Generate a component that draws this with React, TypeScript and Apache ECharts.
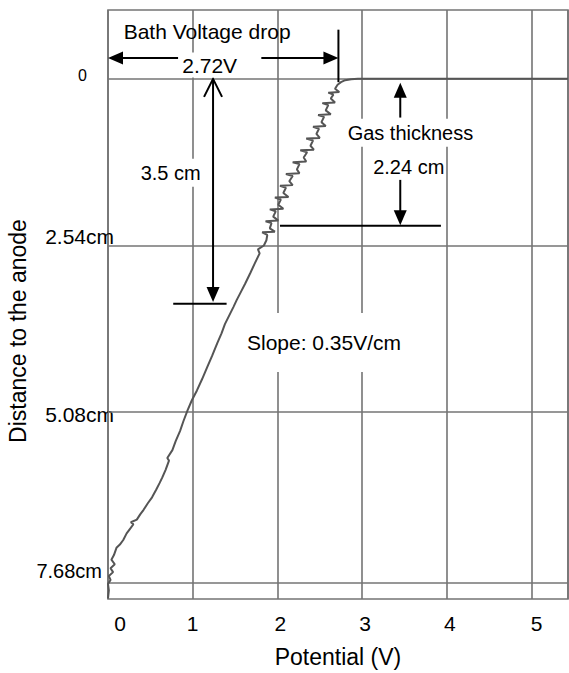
import React, { useEffect, useRef } from "react";
import * as echarts from "echarts";

// Potential profile (V) versus distance to the anode (cm)
const potentialV = [
  0.0, 0.01, 0.0, 0.03, 0.01, 0.06, 0.03, 0.08, 0.04, 0.07, 0.1, 0.14, 0.18, 0.22, 0.26, 0.3, 0.27, 0.34,
  0.38, 0.42, 0.47, 0.52, 0.57, 0.61, 0.64, 0.68, 0.72, 0.7, 0.76, 0.8, 0.85, 0.89, 0.94, 0.99, 1.05, 1.11,
  1.17, 1.23, 1.29, 1.34, 1.38, 1.43, 1.48, 1.52, 1.56, 1.62, 1.68, 1.73, 1.79, 1.77, 1.84, 1.87,
  1.88, 1.82, 1.97, 1.91, 1.93, 1.86, 2.01, 1.95, 1.98, 1.91, 2.07, 2.01, 2.04, 1.97, 2.13, 2.07,
  2.1, 2.03, 2.18, 2.14, 2.18, 2.1, 2.26, 2.23, 2.26, 2.18, 2.34, 2.31, 2.35, 2.27, 2.43, 2.39,
  2.42, 2.34, 2.5, 2.46, 2.49, 2.42, 2.57, 2.52, 2.55, 2.48, 2.63, 2.57, 2.6, 2.53, 2.68, 2.63,
  2.66, 2.6, 2.73, 2.68, 2.71, 2.75, 2.8, 2.87, 2.95, 5.43,
];
const distanceCm = [
  7.92, 7.8, 7.7, 7.64, 7.58, 7.52, 7.46, 7.4, 7.33, 7.26, 7.15, 7.1, 7.03, 6.93, 6.86, 6.79, 6.76, 6.72,
  6.64, 6.57, 6.47, 6.38, 6.26, 6.16, 6.08, 5.96, 5.82, 5.78, 5.66, 5.52, 5.37, 5.22, 5.05, 4.9, 4.75, 4.58,
  4.4, 4.22, 4.03, 3.88, 3.74, 3.61, 3.48, 3.37, 3.27, 3.12, 2.96, 2.82, 2.66, 2.6, 2.54, 2.46,
  2.38, 2.34, 2.33, 2.28, 2.2, 2.17, 2.16, 2.1, 2.02, 1.99, 1.98, 1.92, 1.84, 1.81, 1.8, 1.74,
  1.66, 1.63, 1.62, 1.56, 1.48, 1.45, 1.44, 1.38, 1.3, 1.27, 1.26, 1.2, 1.12, 1.09, 1.08, 1.02,
  0.94, 0.91, 0.9, 0.84, 0.76, 0.73, 0.72, 0.66, 0.58, 0.55, 0.54, 0.48, 0.4, 0.37, 0.36, 0.3,
  0.24, 0.21, 0.2, 0.15, 0.09, 0.05, 0.02, 0.005, 0, 0,
];

const xTickValues = [0, 1, 2, 3, 4, 5];
const yTickValues = [0, 2.54, 5.08, 7.68];
const yTickLabels = ["0", "2.54cm", "5.08cm", "7.68cm"];
const xAxisTitle = "Potential (V)";
const yAxisTitle = "Distance to the anode";

const bathDropLabel = "Bath Voltage drop";
const bathDropValue = "2.72V";
const bathDropV = 2.72;
const depthLabel = "3.5 cm";
const gasLabel = "Gas thickness";
const gasValueLabel = "2.24 cm";
const gasThicknessCm = 2.24;
const slopeLabel = "Slope: 0.35V/cm";

const FONT = "'Liberation Sans', Arial, Helvetica, sans-serif";
const GRID_COLOR = "#747474";

export default function App() {
  const ref = useRef<HTMLDivElement>(null);

  useEffect(() => {
    document.body.style.margin = "0";
    if (!ref.current) return;
    const chart = echarts.init(ref.current, undefined, { renderer: "svg" });

    const data = potentialV.map((v, i) => [v, distanceCm[i]]);

    const xPad: Record<number, number[]> = {
      0: [0, 0, 0, 24],
      1: [0, 0, 0, 0],
      2: [0, 0, 0, 6],
      3: [0, 0, 0, 6],
      4: [0, 0, 0, 6],
      5: [0, 0, 0, 10],
    };
    const xRich: Record<string, any> = {};
    xTickValues.forEach((v) => {
      xRich["x" + v] = { fontSize: 21, fontFamily: FONT, color: "#000", padding: xPad[v] };
    });

    const yRich: Record<string, any> = {
      t0: { fontSize: 16, fontFamily: FONT, color: "#000", padding: [0, 27, 6, 0] },
      t1: { fontSize: 21, fontFamily: FONT, color: "#000", padding: [0, 0, 17, 0] },
      t2: { fontSize: 21, fontFamily: FONT, color: "#000", padding: [4, 0, 0, 0] },
      t3: { fontSize: 20, fontFamily: FONT, color: "#000", padding: [0, 12, 24, 0] },
    };

    chart.setOption({
      animation: false,
      backgroundColor: "#fff",
      grid: {
        left: 108,
        right: 1,
        top: 10,
        bottom: 74,
        show: true,
        borderColor: GRID_COLOR,
        borderWidth: 1.6,
        backgroundColor: "transparent",
      },
      xAxis: {
        type: "value",
        min: 0,
        max: 5.43,
        interval: 1,
        name: xAxisTitle,
        nameLocation: "middle",
        nameGap: 46,
        nameTextStyle: { fontSize: 23, fontFamily: FONT, color: "#000" },
        axisLine: { show: false },
        axisTick: { show: false },
        splitLine: { show: true, lineStyle: { color: GRID_COLOR, width: 1.6 } },
        axisLabel: {
          margin: 14,
          fontSize: 21,
          showMaxLabel: false,
          formatter: (v: number) => {
            const k = Math.round(v);
            return xTickValues.includes(k) && Math.abs(v - k) < 1e-6 ? `{x${k}|${k}}` : "";
          },
          rich: xRich,
        },
      },
      yAxis: {
        type: "value",
        inverse: true,
        min: -1.05,
        max: 7.93,
        axisLine: { show: false },
        axisTick: { show: false },
        splitLine: { show: false },
        axisLabel: {
          customValues: yTickValues,
          margin: -6,
          fontSize: 21,
          formatter: (v: number) => {
            const i = yTickValues.findIndex((t) => Math.abs(t - v) < 1e-6);
            return i >= 0 ? `{t${i}|${yTickLabels[i]}}` : "";
          },
          rich: yRich,
        },
      },
      series: [
        {
          type: "line",
          data,
          showSymbol: false,
          symbol: "none",
          lineStyle: { color: "#555", width: 2 },
          z: 3,
          markLine: {
            silent: true,
            symbol: ["none", "none"],
            label: { show: false },
            lineStyle: { color: GRID_COLOR, width: 1.6, type: "solid" },
            data: yTickValues.map((v) => ({ yAxis: v })),
            z: 1,
          },
        },
      ],
    });

    const p = (v: number, d: number) => chart.convertToPixel({ gridIndex: 0 }, [v, d]) as number[];
    const Z = 100;
    const black = "#000";
    const seg = (a: number[], b: number[]) => ({
      type: "line",
      z: Z,
      shape: { x1: a[0], y1: a[1], x2: b[0], y2: b[1] },
      style: { stroke: black, lineWidth: 2 },
    });
    const head = (tip: number[], dir: "left" | "right" | "up" | "down") => {
      const L = 15;
      const w = 6.5;
      const [x, y] = tip;
      let pts: number[][];
      if (dir === "left") pts = [[x, y], [x + L, y - w], [x + L, y + w]];
      else if (dir === "right") pts = [[x, y], [x - L, y - w], [x - L, y + w]];
      else if (dir === "up") pts = [[x, y], [x - w, y + L], [x + w, y + L]];
      else pts = [[x, y], [x - w, y - L], [x + w, y - L]];
      return { type: "polygon", z: Z, shape: { points: pts }, style: { fill: black } };
    };
    const label = (text: string, at: number[], size: number, bg?: boolean, pad?: number[]) => ({
      type: "text",
      z: Z + 1,
      x: at[0],
      y: at[1],
      style: {
        text,
        fontSize: size,
        fontFamily: FONT,
        fill: black,
        align: "center",
        verticalAlign: "middle",
        backgroundColor: bg ? "#fff" : undefined,
        padding: pad,
      },
    });

    // Bath voltage drop
    const bathY = -0.32;
    const bL = p(0, bathY);
    const bL2 = p(0.83, bathY);
    const bR1 = p(1.81, bathY);
    const bR = p(bathDropV, bathY);
    const markTop = p(bathDropV, -0.75);
    const markBot = p(bathDropV, 0.05);

    // 3.5 cm arrow
    const dX = 1.24;
    const dTop = p(dX, 0);
    const dTip = p(dX, 3.4);
    const dMarkL = p(0.77, 3.43);
    const dMarkR = p(1.4, 3.43);

    // Gas thickness arrows
    const gX = 3.45;
    const gUpTip = p(gX, 0.06);
    const gUpTail = p(gX, 0.59);
    const gDnTail = p(gX, 1.54);
    const gDnTip = p(gX, gasThicknessCm - 0.01);
    const gMarkL = p(2.03, gasThicknessCm);
    const gMarkR = p(3.93, gasThicknessCm);

    const elements: any[] = [
      label(bathDropLabel, p(1.17, -0.72), 21),
      seg([bL[0] + 10, bL[1]], bL2),
      head(bL, "left"),
      seg(bR1, [bR[0] - 10, bR[1]]),
      head(bR, "right"),
      label(bathDropValue, p(1.2, -0.21), 21, true, [2, 4]),
      seg(markTop, markBot),

      seg(dTop, [dTip[0], dTip[1] - 10]),
      {
        type: "polyline",
        z: Z,
        shape: { points: [[dTop[0] - 9, dTop[1] + 18], dTop, [dTop[0] + 9, dTop[1] + 18]] },
        style: { stroke: black, lineWidth: 2, fill: "none" },
      },
      head(dTip, "down"),
      seg(dMarkL, dMarkR),
      label(depthLabel, p(0.74, 1.43), 20, true, [4, 2]),

      head(gUpTip, "up"),
      seg([gUpTip[0], gUpTip[1] + 10], gUpTail),
      seg(gDnTail, [gDnTip[0], gDnTip[1] - 10]),
      head(gDnTip, "down"),
      seg(gMarkL, gMarkR),
      label(gasLabel, p(3.57, 0.82), 20, true, [4, 2]),
      label(gasValueLabel, p(3.55, 1.34), 20),

      label(slopeLabel, p(2.55, 4.02), 21, true, [19, 10]),

      {
        type: "text",
        z: Z,
        x: 17.5,
        y: 331,
        rotation: Math.PI / 2,
        style: {
          text: yAxisTitle,
          fontSize: 23,
          fontFamily: FONT,
          fill: black,
          align: "center",
          verticalAlign: "middle",
        },
      },
    ];

    chart.setOption({ graphic: { elements } });

    return () => {
      chart.dispose();
    };
  }, []);

  return <div ref={ref} style={{ width: 569, height: 673 }} />;
}
